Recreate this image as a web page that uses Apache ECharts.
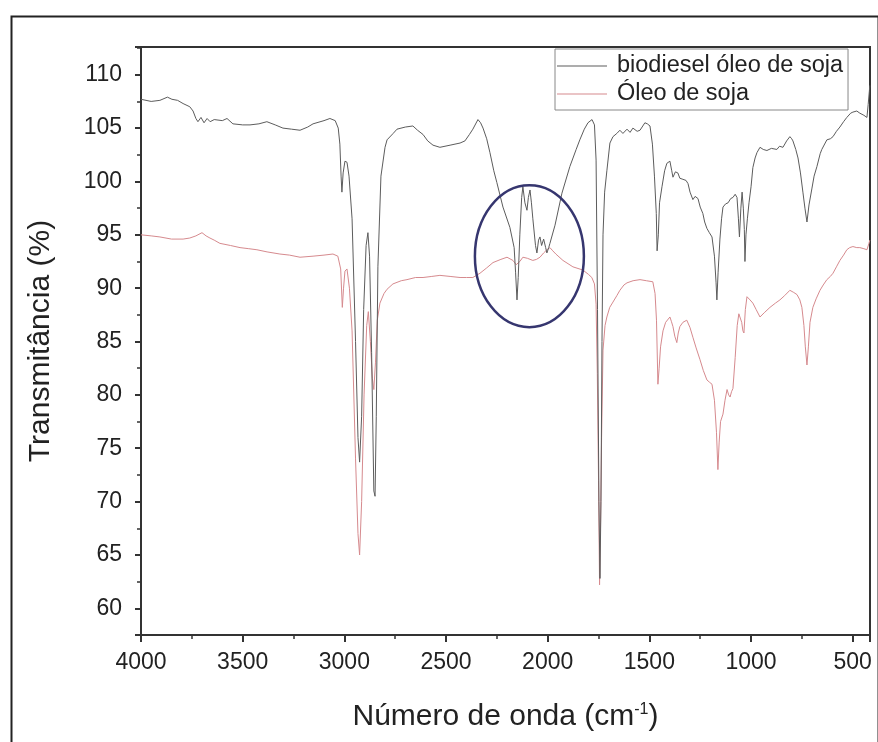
<!DOCTYPE html>
<html>
<head>
<meta charset="utf-8">
<script src="https://cdn.jsdelivr.net/npm/echarts@6/dist/echarts.min.js"></script>
<style>
  html, body { margin: 0; padding: 0; background: #fff; }
  #chart { width: 878px; height: 742px; }
</style>
</head>
<body>
<div id="chart"></div>
<script>
// series names (legend)
const seriesNames = ['biodiesel óleo de soja', 'Óleo de soja'];

// biodiesel óleo de soja: wavenumber (cm-1) / transmittance (%)
const bioWn = [4000,3950,3907,3870,3848,3820,3793,3760,3744,3730,3720,3705,3690,3675,3660,3640,3600,3577,3548,3500,3464,3420,3381,3340,3302,3260,3218,3180,3154,3100,3071,3045,3030,3022,3016,3012,3006,2997,2987,2977,2962,2945,2933,2925,2915,2905,2893,2884,2876,2866,2855,2849,2843,2835,2820,2800,2790,2760,2741,2700,2663,2640,2613,2590,2564,2530,2480,2431,2407,2385,2368,2343,2330,2318,2300,2284,2265,2250,2220,2186,2165,2158,2151,2145,2137,2128,2122,2112,2102,2095,2087,2080,2073,2060,2053,2045,2038,2030,2020,2010,2004,1995,1989,1964,1930,1891,1860,1842,1820,1802,1782,1770,1762,1755,1748,1743,1738,1733,1728,1720,1709,1694,1679,1660,1645,1630,1610,1595,1581,1560,1546,1522,1510,1497,1485,1475,1466,1462,1456,1450,1438,1425,1414,1399,1390,1384,1372,1360,1350,1335,1320,1310,1300,1286,1275,1261,1250,1237,1228,1217,1205,1192,1180,1172,1168,1162,1153,1145,1138,1125,1113,1100,1089,1078,1069,1062,1057,1050,1044,1038,1033,1030,1025,1018,1010,1000,991,980,971,956,940,922,900,873,860,843,825,809,800,794,780,769,757,745,735,725,715,701,690,676,660,652,627,610,597,580,563,545,529,510,499,480,465,445,430,424,418,416];
const bioT = [107.7,107.5,107.6,107.9,107.7,107.6,107.3,107.0,106.6,105.9,105.6,106.0,105.5,105.9,105.6,105.8,105.7,105.9,105.4,105.3,105.3,105.4,105.6,105.3,105.0,104.9,104.8,105.1,105.4,105.7,105.9,105.7,105.0,103.5,100.5,99.0,100.8,101.9,101.8,100.5,96.5,85,76,73.7,78,88,94,95.2,93,84,71,70.5,78,92,100.5,103.2,103.9,104.5,104.9,105.1,105.2,104.8,104.4,103.8,103.4,103.2,103.4,103.6,103.8,104.4,104.9,105.8,105.5,105.0,104.0,102.7,101.0,99.9,97.6,95.7,93.8,91.5,88.9,91,95,98.5,99.5,98.0,97.3,98.5,99.2,98.0,96.5,94.0,93.3,94.5,94.8,94.0,94.6,93.8,93.3,93.8,94.2,95.9,98.9,101.4,103.0,103.9,104.9,105.5,105.8,105.3,102,88,70,62.8,70,85,95,99,101.0,103.6,104.2,104.5,104.8,104.5,104.9,104.6,105.0,104.7,104.8,105.5,105.4,105.2,103.5,100.5,97,93.5,95,98,99.5,101.0,101.7,101.9,101.0,100.4,100.9,100.8,100.3,100.2,100.1,99.8,99.0,98.3,98.6,98.4,97.6,97.0,96.2,95.6,95.2,94.8,93.0,90.5,88.9,91.5,94.6,96.5,97.6,97.9,98.0,98.4,98.5,98.8,98.5,96.5,94.8,97.5,99.0,97.5,95.5,92.5,95,96.5,98.0,99.5,101.3,102.2,102.7,103.2,103.0,102.9,103.1,103.0,103.3,103.2,103.8,104.2,104.0,103.8,103.0,102.2,100.8,99.0,97.5,96.2,97.8,99.3,100.5,101.4,102.6,103.0,103.9,104.0,104.2,104.7,105.1,105.6,106.0,106.4,106.5,106.6,106.4,106.2,106.0,107.2,108.5,109.0];

// Óleo de soja: wavenumber (cm-1) / transmittance (%)
const sojaWn = [4000,3950,3907,3850,3793,3760,3730,3700,3680,3661,3640,3612,3560,3513,3470,3430,3380,3317,3270,3218,3154,3100,3056,3032,3018,3010,3004,2997,2987,2975,2962,2945,2933,2925,2915,2903,2890,2882,2872,2862,2855,2847,2838,2825,2805,2790,2761,2720,2692,2650,2613,2570,2530,2480,2431,2400,2368,2333,2300,2269,2230,2200,2171,2155,2137,2122,2100,2073,2055,2038,2020,2004,1989,1975,1960,1925,1876,1827,1800,1783,1770,1762,1756,1750,1745,1740,1735,1728,1718,1709,1695,1679,1660,1645,1625,1610,1580,1546,1515,1483,1472,1465,1458,1452,1445,1433,1420,1399,1392,1384,1375,1365,1358,1350,1335,1316,1300,1286,1270,1251,1235,1217,1205,1192,1180,1170,1163,1157,1150,1138,1128,1118,1110,1103,1096,1089,1078,1068,1060,1054,1046,1040,1035,1028,1020,1005,991,975,956,935,907,880,858,835,809,790,774,760,750,740,733,725,718,710,696,680,661,645,627,610,597,580,563,545,529,515,499,480,465,445,430,420,416];
const sojaT = [95.0,94.9,94.8,94.6,94.6,94.7,94.9,95.2,94.9,94.7,94.5,94.2,94.0,93.8,93.7,93.6,93.4,93.2,93.1,92.9,93.0,93.1,93.2,93.0,91.8,88.2,90.0,91.6,91.8,90.0,86.0,74,67,65.0,70,80,86.5,87.8,85,81.5,80.5,83,87.0,88.6,89.5,89.9,90.4,90.7,90.8,91.0,91.0,91.1,91.2,91.1,91.0,91.0,91.0,91.4,91.9,92.4,92.7,92.9,92.6,92.2,92.5,92.9,92.8,92.6,92.7,92.9,93.3,93.6,93.8,93.5,93.2,92.6,92.0,91.7,91.3,91.0,90.4,88.5,82,72,62.2,68,76,84.2,86.5,87.3,88.2,88.7,89.3,89.8,90.3,90.5,90.7,90.8,90.7,90.6,89.5,87.0,81.0,82.5,84.5,86.0,86.8,87.3,86.9,86.4,85.5,84.9,85.8,86.4,86.8,87.0,86.3,85.4,84.4,83.3,82.3,81.4,81.2,81.0,79.5,76.5,73.0,75.5,77.5,78.2,79.5,80.5,80.0,79.8,80.3,80.6,83.5,86.5,87.6,87.7,86.8,86.0,85.8,88.0,89.2,88.9,88.6,88.0,87.3,87.7,88.2,88.6,88.9,89.3,89.8,89.6,89.4,88.9,88.2,86.5,84.5,82.8,84.5,86.8,88.2,89.0,89.8,90.3,90.8,91.1,91.4,92.0,92.6,93.1,93.6,93.8,93.9,93.8,93.8,93.7,93.6,94.2,94.5];

// highlighted region (ellipse), in data units
const markCenter = [2090, 93.0];
const markRadius = [268, 6.65];

const FONT = 'Liberation Sans, Arial, sans-serif';

function pairs(xs, ys) {
  return xs.map((x, i) => [x, ys[i]]);
}

let myChart = echarts.init(document.getElementById('chart'));

const option = {
  animation: false,
  backgroundColor: '#fff',
  grid: {
    left: 141,
    right: 8,
    top: 47,
    bottom: 107,
    show: true,
    borderColor: '#333',
    borderWidth: 2,
  },
  legend: {
    orient: 'vertical',
    left: 555,
    top: 49,
    padding: [5, 5, 4, 2],
    itemGap: 4,
    itemWidth: 50,
    itemHeight: 1.2,
    icon: 'rect',
    borderColor: '#888',
    borderWidth: 1,
    backgroundColor: '#fff',
    data: seriesNames,
    textStyle: {
      fontFamily: FONT,
      fontSize: 23.5,
      color: '#222',
      lineHeight: 24,
      padding: [0, 0, 0, 5],
    },
  },
  xAxis: {
    type: 'value',
    inverse: true,
    min: 415,
    max: 4000,
    splitNumber: 7,
    name: 'Número de onda (cm{sup|-1})',
    nameLocation: 'middle',
    nameGap: 67,
    nameTextStyle: {
      fontFamily: FONT,
      fontSize: 30,
      color: '#222',
      rich: {
        sup: { fontFamily: FONT, fontSize: 16, color: '#222', verticalAlign: 'top', padding: [0, 0, 14, 0] },
      },
    },
    axisLine: { lineStyle: { color: '#333', width: 2 } },
    axisTick: { inside: false, length: 7, lineStyle: { color: '#333', width: 2 } },
    minorTick: { show: true, splitNumber: 2, length: 4, lineStyle: { color: '#333', width: 1.5 } },
    splitLine: { show: false },
    axisLabel: {
      showMinLabel: false,
      margin: 16,
      fontFamily: FONT,
      fontSize: 23,
      color: '#222',
      formatter: (v) => String(v),
    },
  },
  yAxis: {
    type: 'value',
    min: 57.5,
    max: 112.6,
    splitNumber: 11,
    name: 'Transmitância (%)',
    nameLocation: 'middle',
    nameGap: 85,
    nameTextStyle: {
      fontFamily: FONT,
      fontSize: 30,
      color: '#222',
    },
    axisLine: { lineStyle: { color: '#333', width: 2 } },
    axisTick: { inside: false, length: 6, lineStyle: { color: '#333', width: 2 } },
    minorTick: { show: true, splitNumber: 2, length: 4, lineStyle: { color: '#333', width: 1.5 } },
    splitLine: { show: false },
    axisLabel: {
      showMinLabel: false,
      showMaxLabel: false,
      margin: 19,
      fontFamily: FONT,
      fontSize: 23,
      color: '#222',
      formatter: (v) => String(v),
    },
  },
  series: [
    {
      name: seriesNames[1],
      type: 'line',
      symbol: 'none',
      data: pairs(sojaWn, sojaT),
      itemStyle: { color: '#d68a8e' },
      lineStyle: { color: '#d68a8e', width: 1 },
    },
    {
      name: seriesNames[0],
      type: 'line',
      symbol: 'none',
      data: pairs(bioWn, bioT),
      itemStyle: { color: '#5c5c5c' },
      lineStyle: { color: '#5c5c5c', width: 1 },
    },
  ],
};

myChart.setOption(option, true);

// outer frame and the ellipse around the 2200-1900 region
const c = myChart.convertToPixel({ xAxisIndex: 0, yAxisIndex: 0 }, markCenter);
const e = myChart.convertToPixel({ xAxisIndex: 0, yAxisIndex: 0 }, [markCenter[0] - markRadius[0], markCenter[1] + markRadius[1]]);

myChart.setOption({
  graphic: [
    {
      type: 'rect',
      left: 9,
      top: 14,
      shape: { x: 0, y: 0, width: 867, height: 740 },
      style: { fill: 'none', stroke: '#222', lineWidth: 2 },
      z: 0,
      silent: true,
    },
    {
      type: 'ellipse',
      shape: { cx: c[0], cy: c[1], rx: Math.abs(e[0] - c[0]), ry: Math.abs(e[1] - c[1]) },
      style: { fill: 'none', stroke: '#36366f', lineWidth: 2.5 },
      z: 100,
      silent: true,
    },
  ],
});

window.addEventListener('resize', () => {
  myChart.resize();
});
</script>
</body>
</html>
